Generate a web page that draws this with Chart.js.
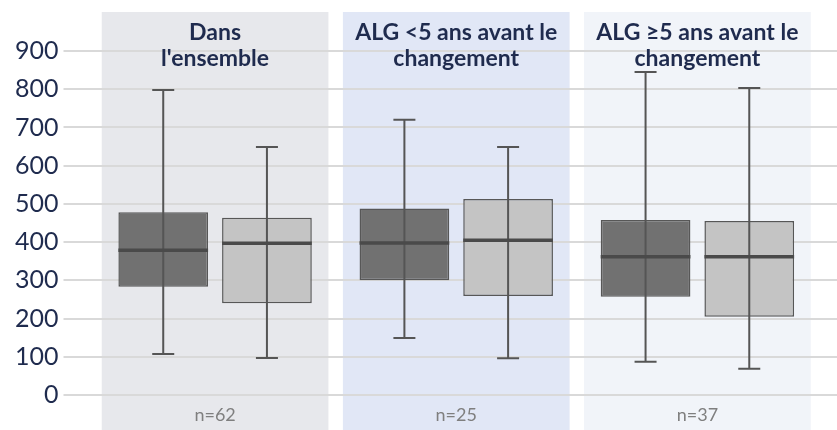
<!DOCTYPE html>
<html>
<head>
<meta charset="utf-8">
<script src="https://cdn.jsdelivr.net/npm/chart.js@4.4.1/dist/chart.umd.min.js"></script>
<style>
  html, body { margin: 0; padding: 0; background: #ffffff; }
  #wrap { position: relative; width: 837px; height: 430px; }
</style>
</head>
<body>
<div id="wrap"><canvas id="box-chart"></canvas></div>
<script>
// Categories and header texts
const groupLabels = ["Dans l'ensemble", 'ALG <5 ans avant le changement', 'ALG ≥5 ans avant le changement'];
const headerLines = [["Dans", "l'ensemble"], ['ALG <5 ans avant le', 'changement'], ['ALG ≥5 ans avant le', 'changement']];
const sampleSizes = ['n=62', 'n=25', 'n=37'];
const panelColors = ['#e7e8ec', '#e1e7f6', '#f1f4f9'];

// Y axis range
const yMin = 0;
const yMax = 900;
const yStep = 100;

// Series 1 (dark boxes)
const darkMin = [107, 149, 87];
const darkQ1 = [283, 300, 257];
const darkMedian = [379, 398, 362];
const darkQ3 = [478, 488, 458];
const darkMax = [798, 720, 845];

// Series 2 (light boxes)
const lightMin = [97, 96, 69];
const lightQ1 = [240, 259, 205];
const lightMedian = [397, 405, 362];
const lightQ3 = [464, 513, 455];
const lightMax = [649, 649, 803];

const NAVY = '#1f2b4e';
const GRID = '#d9d9d9';

// Background panels behind each category, header and n= labels
const panelPlugin = {
  id: 'panels',
  beforeDraw(chart) {
    const { ctx } = chart;
    const x = chart.scales.x;
    const half = (x.width / groupLabels.length) * 0.47;
    ctx.save();
    groupLabels.forEach((g, i) => {
      const cx = x.getPixelForValue(i);
      ctx.fillStyle = panelColors[i];
      ctx.fillRect(cx - half, 12, half * 2, chart.height - 12);
    });
    ctx.restore();
  },
  beforeDatasetsDraw(chart) {
    // extend the grid lines to the right edge of the canvas
    const { ctx, chartArea } = chart;
    const y = chart.scales.y;
    ctx.save();
    ctx.strokeStyle = GRID;
    ctx.lineWidth = 2;
    y.ticks.forEach(t => {
      const py = Math.round(y.getPixelForValue(t.value));
      ctx.beginPath();
      ctx.moveTo(chartArea.right, py);
      ctx.lineTo(chart.width, py);
      ctx.stroke();
    });
    ctx.restore();
  },
  afterDraw(chart) {
    const { ctx } = chart;
    const x = chart.scales.x;
    ctx.save();
    ctx.textAlign = 'center';
    ctx.textBaseline = 'middle';
    groupLabels.forEach((g, i) => {
      const cx = x.getPixelForValue(i);
      ctx.fillStyle = NAVY;
      ctx.font = "bold 23px Lato";
      headerLines[i].forEach((line, k) => {
        ctx.fillText(line, cx, 33 + k * 26);
      });
      ctx.fillStyle = '#7f7f7f';
      ctx.font = '18px Lato';
      ctx.fillText(sampleSizes[i], cx, 415);
    });
    ctx.restore();
  }
};

// Whiskers and medians drawn over the floating bars
const whiskerPlugin = {
  id: 'whiskers',
  afterDatasetsDraw(chart) {
    const { ctx } = chart;
    const y = chart.scales.y;
    ctx.save();
    chart.data.datasets.forEach((ds, di) => {
      const meta = chart.getDatasetMeta(di);
      meta.data.forEach((bar, i) => {
        const bx = bar.x;
        const w = bar.width;
        const top = y.getPixelForValue(ds.whiskerMax[i]);
        const bottom = y.getPixelForValue(ds.whiskerMin[i]);
        const med = y.getPixelForValue(ds.median[i]);
        ctx.strokeStyle = '#555555';
        ctx.lineWidth = 2;
        ctx.beginPath();
        ctx.moveTo(bx, top);
        ctx.lineTo(bx, bottom);
        ctx.moveTo(bx - 11, top);
        ctx.lineTo(bx + 11, top);
        ctx.moveTo(bx - 11, bottom);
        ctx.lineTo(bx + 11, bottom);
        ctx.stroke();
        ctx.strokeStyle = '#4a4a4a';
        ctx.lineWidth = 3.5;
        ctx.beginPath();
        ctx.moveTo(bx - w / 2, med);
        ctx.lineTo(bx + w / 2, med);
        ctx.stroke();
      });
    });
    ctx.restore();
  }
};

const ctx = document.getElementById('box-chart');

new Chart(ctx, {
  type: 'bar',
  data: {
    labels: groupLabels,
    datasets: [
      {
        label: 'Série 1',
        data: darkQ1.map((q, i) => [q, darkQ3[i]]),
        whiskerMin: darkMin,
        whiskerMax: darkMax,
        median: darkMedian,
        backgroundColor: '#717171',
        borderColor: '#575757',
        borderWidth: 1.5,
        borderSkipped: false
      },
      {
        label: 'Série 2',
        data: lightQ1.map((q, i) => [q, lightQ3[i]]),
        whiskerMin: lightMin,
        whiskerMax: lightMax,
        median: lightMedian,
        backgroundColor: '#c4c4c4',
        borderColor: '#575757',
        borderWidth: 1.5,
        borderSkipped: false
      }
    ]
  },
  options: {
    responsive: true,
    maintainAspectRatio: false,
    animation: false,
    categoryPercentage: 0.86,
    barPercentage: 0.865,
    layout: { padding: { top: 51, bottom: 35, left: 10, right: 19 } },
    plugins: {
      legend: { display: false },
      tooltip: { enabled: false }
    },
    scales: {
      x: { display: false },
      y: {
        min: yMin,
        max: yMax,
        border: { display: false },
        grid: { color: GRID, lineWidth: 2, tickLength: 31, tickColor: GRID },
        ticks: {
          stepSize: yStep,
          color: NAVY,
          padding: 5,
          font: { family: 'Lato', size: 25 }
        }
      }
    }
  },
  plugins: [panelPlugin, whiskerPlugin]
});
</script>
</body>
</html>
